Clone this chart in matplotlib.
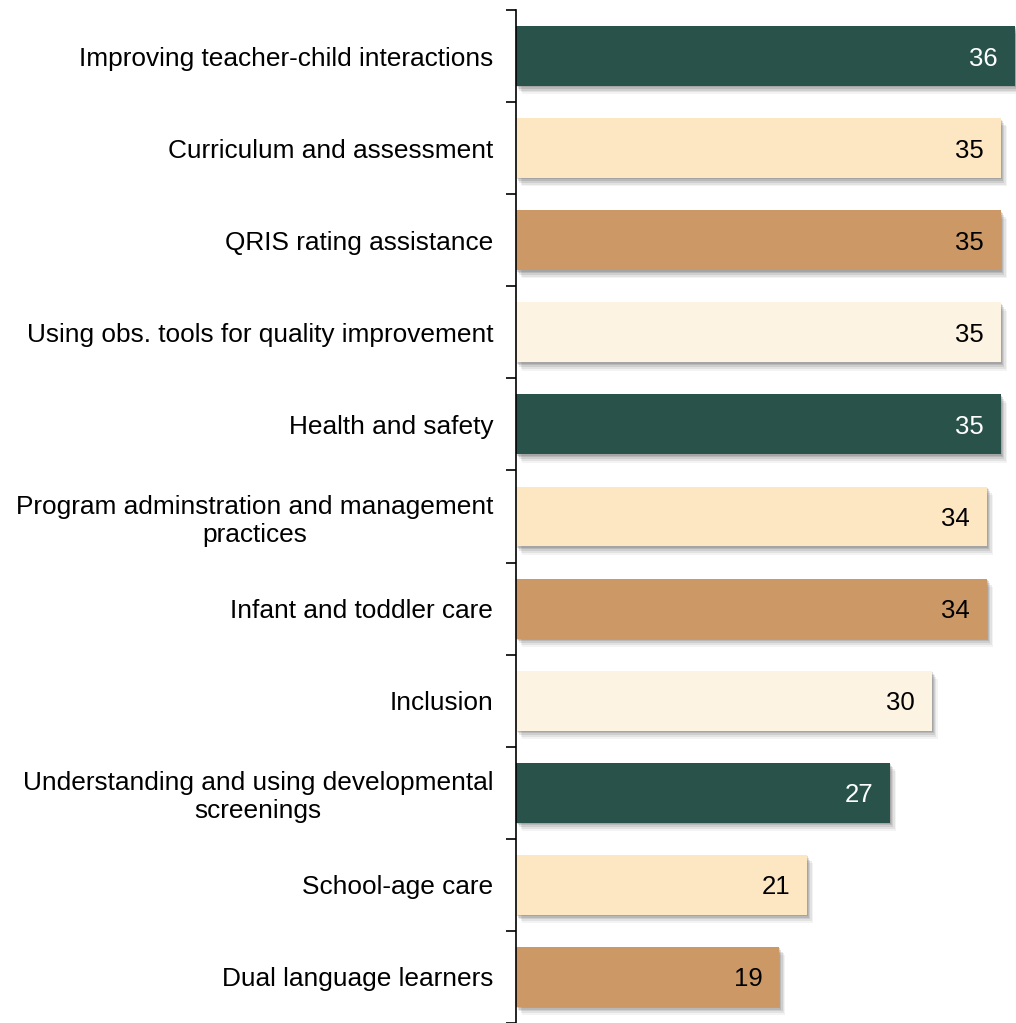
import numpy as np
import matplotlib.pyplot as plt

plt.rcParams['font.family'] = ['Liberation Sans', 'DejaVu Sans']

categories = [
    "Improving teacher-child interactions",
    "Curriculum and assessment",
    "QRIS rating assistance",
    "Using obs. tools for quality improvement",
    "Health and safety",
    "Program adminstration and management\npractices",
    "Infant and toddler care",
    "Inclusion",
    "Understanding and using developmental\nscreenings",
    "School-age care",
    "Dual language learners",
]
values = [36, 35, 35, 35, 35, 34, 34, 30, 27, 21, 19]

palette = ["#28524a", "#fde6c2", "#cc9866", "#fdf3e2"]
label_colors = ["white", "black", "black", "black"]

fig = plt.figure(figsize=(10.16, 10.23), dpi=100)
ax = fig.add_axes([516 / 1016, 0.0, 1 - 516 / 1016, 1 - 10 / 1023])

n = len(categories)
y = np.arange(n)
h = 0.65
xmax = 36.1

# soft drop shadow (stacked, offset translucent bars)
for dx, dy, a in [(0.45, 0.09, 0.07), (0.35, 0.07, 0.10), (0.25, 0.05, 0.14),
                  (0.15, 0.03, 0.18), (0.08, 0.015, 0.2)]:
    ax.barh(y + dy, values, height=h, left=dx, color="#555555", alpha=a,
            zorder=1, linewidth=0)

cols = [palette[i % 4] for i in range(n)]
ax.barh(y, values, height=h, color=cols, zorder=2, linewidth=0)

for i, v in enumerate(values):
    ax.annotate(str(v), xy=(v, i), xytext=(-12, 0), textcoords="offset points",
                ha="right", va="center_baseline", fontsize=18.5,
                color=label_colors[i % 4], zorder=3)

ax.set_xlim(0, xmax)
ax.set_ylim(n - 0.5, -0.5)
ax.set_yticks(y)
ax.set_yticklabels(categories, fontsize=18.9)
for lbl in ax.get_yticklabels():
    lbl.set_multialignment("center")
ax.tick_params(axis="y", which="major", length=0, pad=16.5)
ax.set_yticks(np.arange(n + 1) - 0.5, minor=True)
ax.tick_params(axis="y", which="minor", length=7, width=1.2, direction="out")
ax.set_xticks([])

for s in ["top", "right", "bottom"]:
    ax.spines[s].set_visible(False)
ax.spines["left"].set_linewidth(1.2)

fig.savefig("out.png", dpi=100)
